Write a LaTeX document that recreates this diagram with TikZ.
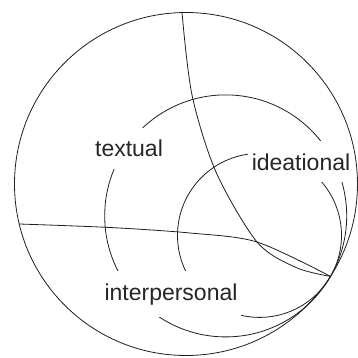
\documentclass[tikz,border=0pt]{standalone}
\usepackage{fontspec}
\setmainfont{Liberation Sans}
\begin{document}
\begin{tikzpicture}[x=1pt,y=-1pt,
  curve/.style={draw=black!88, line width=0.8pt},
  lab/.style={fill=white, inner xsep=4pt, inner ysep=12pt, anchor=base,
    text=black!85, font=\fontsize{23}{27}\selectfont}]
\useasboundingbox (0,0) rectangle (357,358);
\coordinate (O) at (186,184);
\coordinate (P) at (330.5,276.4);
\coordinate (T) at (225.7,215.9);
\coordinate (I) at (259.5,235.4);
\coordinate (Q1) at (182,12.55);
\coordinate (Q2) at (19.2,224);
% horocycles
\draw[curve] (T) circle[radius=121];
\draw[curve] (I) circle[radius=82];
% labels (break the circles)
\node[lab] (textual) at (129,157) {textual};
\node[lab] (ideational) at (301,170) {ideational};
\node[lab] (interpersonal) at (171,300) {interpersonal};
% boundary circle
\draw[curve] (O) circle[radius=171.5];
% the two curves meeting at P
\draw[curve] plot[smooth] coordinates {(Q1) (192,95) (216,172) (257,242) (296,267.5) (P)};
\draw[curve] plot[smooth] coordinates {(Q2) (110,227.5) (190,233) (257,242) (P)};
\end{tikzpicture}
\end{document}
